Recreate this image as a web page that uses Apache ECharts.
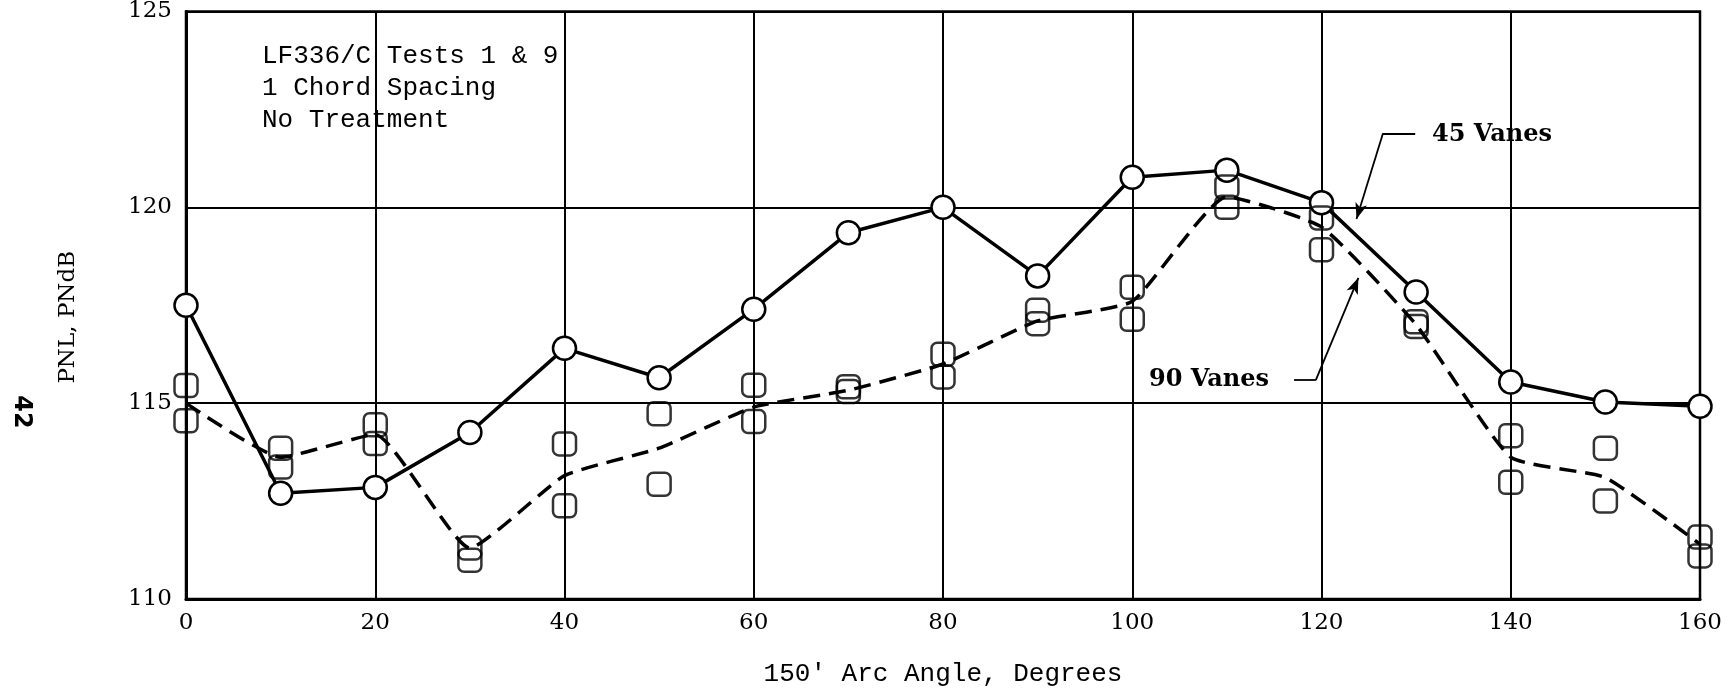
<!DOCTYPE html>
<html>
<head>
<meta charset="utf-8">
<title>PNL vs Arc Angle</title>
<script src="https://cdn.jsdelivr.net/npm/echarts/dist/echarts.min.js"></script>
<style>
  html, body { margin: 0; padding: 0; background: #fff; }
  #chart { width: 1734px; height: 694px; }
</style>
</head>
<body>
<div id="chart"></div>
<script>
// 150' arc angle, degrees
var angles = [0, 10, 20, 30, 40, 50, 60, 70, 80, 90, 100, 110, 120, 130, 140, 150, 160];

// 45 vanes, circles joined by solid line
var vanes45 = [117.5, 112.7, 112.85, 114.25, 116.4, 115.65, 117.4, 119.35, 120.0, 118.25, 120.77, 120.95, 120.12, 117.84, 115.54, 115.03, 114.92];

// 90 vanes, two measured squares per angle (upper / lower)
var vanes90Upper = [115.45, 113.85, 114.45, 111.3, 113.96, 114.73, 115.46, 115.42, 116.25, 117.37, 117.96, 120.52, 119.73, 117.08, 114.17, 113.85, 111.58];
var vanes90Lower = [114.55, 113.37, 113.97, 110.99, 112.38, 112.93, 114.53, 115.3, 115.67, 117.03, 117.14, 120.0, 118.92, 116.96, 112.98, 112.5, 111.1];

// 90 vanes faired curve (dashed)
var vanes90Curve = [115.0, 113.62, 114.2, 111.3, 113.15, 113.85, 114.9, 115.33, 116.0, 117.1, 117.6, 120.27, 119.5, 117.0, 113.62, 113.1, 111.4];

var xTicks = [0, 20, 40, 60, 80, 100, 120, 140, 160];
var yTicks = [110, 115, 120, 125];

var noteLines = ['LF336/C Tests 1 & 9', '1 Chord Spacing', 'No Treatment'];

function pairs(ys) {
  var out = [];
  for (var i = 0; i < angles.length; i++) {
    out.push([angles[i], ys[i]]);
  }
  return out;
}

var squares = pairs(vanes90Upper).concat(pairs(vanes90Lower));

var chart = echarts.init(document.getElementById('chart'), null, { renderer: 'canvas' });

var serif = '"DejaVu Serif", "Liberation Serif", serif';
var mono = '"Liberation Mono", "DejaVu Sans Mono", monospace';

var leaderStyle = { color: '#000', width: 1.8, type: 'solid' };

var option = {
  backgroundColor: '#fff',
  animation: false,
  grid: {
    left: 186,
    right: 34,
    top: 11,
    bottom: 95,
    show: true,
    borderColor: '#000',
    borderWidth: 2.5,
    backgroundColor: 'transparent'
  },
  xAxis: {
    type: 'value',
    min: xTicks[0],
    max: xTicks[xTicks.length - 1],
    interval: 20,
    name: "150' Arc Angle, Degrees",
    nameLocation: 'middle',
    nameGap: 62,
    nameTextStyle: { color: '#000', fontFamily: mono, fontSize: 26 },
    axisLine: { show: true, lineStyle: { color: '#000', width: 3 } },
    axisTick: { show: false },
    axisLabel: { color: '#000', fontFamily: serif, fontSize: 23, margin: 13 },
    splitLine: { show: true, lineStyle: { color: '#000', width: 2 } }
  },
  yAxis: {
    type: 'value',
    min: yTicks[0],
    max: yTicks[yTicks.length - 1],
    interval: 5,
    name: 'PNL, PNdB',
    nameLocation: 'middle',
    nameGap: 106,
    nameTextStyle: { color: '#000', fontFamily: serif, fontSize: 23, padding: [0, 24, 0, 0] },
    axisLine: { show: true, lineStyle: { color: '#000', width: 3 } },
    axisTick: { show: false },
    axisLabel: { color: '#000', fontFamily: serif, fontSize: 23, margin: 14 },
    splitLine: { show: true, lineStyle: { color: '#000', width: 2 } }
  },
  series: [
    {
      // faired curve for 90 vanes
      name: '90 Vanes curve',
      type: 'line',
      data: pairs(vanes90Curve),
      smooth: 0.15,
      symbol: 'none',
      lineStyle: { color: '#000', width: 3.5, type: [17, 9] },
      z: 3,
      markLine: {
        silent: true,
        symbol: ['none', 'arrow'],
        symbolSize: [9, 16],
        label: { show: false },
        lineStyle: leaderStyle,
        data: [
          [{ coord: [117.1, 115.59], symbol: 'none' }, { coord: [119.4, 115.59], symbol: 'none' }],
          [{ coord: [119.4, 115.59], symbol: 'none' }, { coord: [123.9, 118.2], symbol: 'arrow' }]
        ]
      }
    },
    {
      name: '45 Vanes',
      type: 'line',
      data: pairs(vanes45),
      symbol: 'circle',
      symbolSize: 23,
      showAllSymbol: true,
      lineStyle: { color: '#000', width: 3.5 },
      itemStyle: { color: '#fff', borderColor: '#000', borderWidth: 2.5 },
      z: 4,
      markLine: {
        silent: true,
        symbol: ['none', 'arrow'],
        symbolSize: [9, 16],
        label: { show: false },
        lineStyle: leaderStyle,
        data: [
          [{ coord: [126.5, 121.89], symbol: 'none' }, { coord: [129.9, 121.89], symbol: 'none' }],
          [{ coord: [126.5, 121.89], symbol: 'none' }, { coord: [123.7, 119.7], symbol: 'arrow' }]
        ]
      }
    },
    {
      name: '90 Vanes',
      type: 'scatter',
      data: squares,
      symbol: 'roundRect',
      symbolSize: 23,
      itemStyle: { color: 'rgba(255,255,255,0)', borderColor: '#000', borderWidth: 2.5 },
      z: 5
    }
  ],
  graphic: [
    {
      type: 'text',
      left: 262,
      top: 40,
      silent: true,
      style: {
        text: noteLines.join('\n'),
        font: '26px ' + mono,
        lineHeight: 32,
        fill: '#000'
      }
    },
    {
      type: 'text',
      x: 1492,
      y: 135,
      silent: true,
      style: {
        text: '45 Vanes',
        font: 'bold 24px ' + serif,
        fill: '#000',
        align: 'center',
        verticalAlign: 'middle'
      }
    },
    {
      type: 'text',
      x: 1209,
      y: 380,
      silent: true,
      style: {
        text: '90 Vanes',
        font: 'bold 24px ' + serif,
        fill: '#000',
        align: 'center',
        verticalAlign: 'middle'
      }
    },
    {
      // page number in the margin
      type: 'text',
      x: 21,
      y: 412,
      rotation: -Math.PI / 2,
      silent: true,
      style: {
        text: '42',
        font: 'bold 24px "DejaVu Sans", sans-serif',
        fill: '#000',
        align: 'center',
        verticalAlign: 'middle'
      }
    }
  ]
};

chart.setOption(option);

window.addEventListener('resize', function () {
  chart.resize();
});
</script>
</body>
</html>
